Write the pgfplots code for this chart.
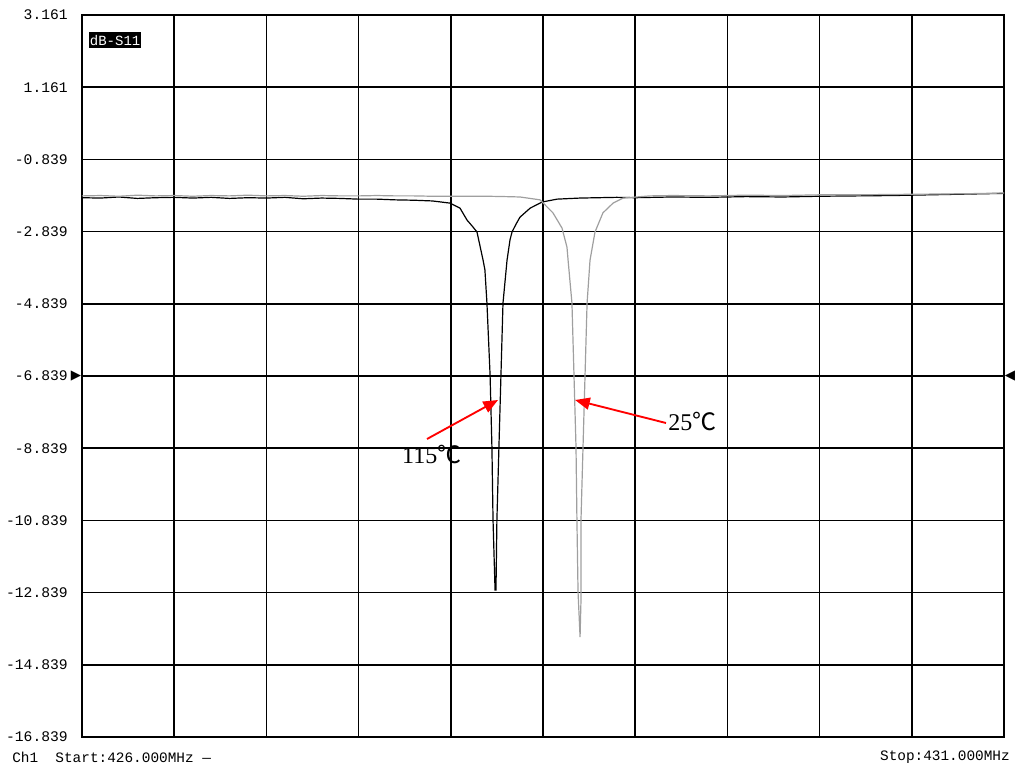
\documentclass[border=0pt]{standalone}
\usepackage{pgfplots}
\pgfplotsset{compat=1.18}
\usetikzlibrary{arrows.meta}
\usepackage{fontspec}
\setmainfont{Liberation Serif}
\newfontfamily\monofont{Liberation Mono}
\newfontfamily\symfont{DejaVu Sans}
\newfontfamily\cjk{Noto Sans CJK SC}
\begin{document}
\begin{tikzpicture}
\useasboundingbox (-61.5pt,-28.5pt) rectangle (706.5pt,552.75pt);
\begin{axis}[
  at={(0pt,0pt)}, anchor=south west,
  scale only axis, width=691.5pt, height=541.5pt,
  xmin=426, xmax=431, ymin=-16.839, ymax=3.161,
  xtick={426,426.5,427,427.5,428,428.5,429,429.5,430,430.5,431},
  xticklabels={},
  ytick={3.161,1.161,-0.839,-2.839,-4.839,-6.839,-8.839,-10.839,-12.839,-14.839,-16.839},
  yticklabels={3.161,1.161,-0.839,-2.839,-4.839,-6.839,-8.839,-10.839,-12.839,-14.839,-16.839},
  yticklabel style={font=\monofont\fontsize{11}{12}\selectfont, anchor=east, inner sep=0pt, xshift=-10.5pt},
  grid=major,
  major grid style={black, line width=1.3pt},
  axis line style={black, line width=1.3pt},
  major tick length=0pt,
  clip=false,
]
% 115 C (black)
\addplot[black, line width=0.9pt] coordinates {
(426.00,-1.90) (426.10,-1.91) (426.20,-1.88) (426.30,-1.92) (426.40,-1.90)
(426.50,-1.89) (426.60,-1.91) (426.70,-1.89) (426.80,-1.92) (426.90,-1.90)
(427.00,-1.91) (427.10,-1.89) (427.20,-1.93) (427.30,-1.91) (427.40,-1.92)
(427.50,-1.94) (427.60,-1.94) (427.70,-1.96) (427.80,-1.97) (427.90,-1.99)
(427.996,-2.05) (428.050,-2.19) (428.088,-2.52) (428.115,-2.68) (428.142,-2.85)
(428.175,-3.63) (428.185,-3.90) (428.196,-4.82) (428.213,-6.81) (428.223,-8.81)
(428.229,-10.83) (428.240,-12.77) (428.245,-12.77) (428.250,-10.83) (428.261,-8.81)
(428.272,-6.81) (428.283,-4.82) (428.305,-3.63) (428.321,-3.07) (428.332,-2.85)
(428.354,-2.63) (428.375,-2.44) (428.430,-2.19) (428.495,-2.02) (428.576,-1.94)
(428.70,-1.91) (428.80,-1.90) (428.90,-1.89) (429.00,-1.90) (429.20,-1.88)
(429.40,-1.89) (429.60,-1.87) (429.80,-1.88) (430.00,-1.86) (430.20,-1.85)
(430.40,-1.84) (430.60,-1.82) (430.80,-1.80) (431.00,-1.78)
};
% 25 C (gray)
\addplot[gray!75, line width=0.9pt] coordinates {
(426.00,-1.85) (426.10,-1.84) (426.20,-1.86) (426.30,-1.83) (426.40,-1.85)
(426.50,-1.84) (426.60,-1.86) (426.70,-1.84) (426.80,-1.85) (426.90,-1.83)
(427.00,-1.85) (427.10,-1.84) (427.20,-1.86) (427.30,-1.84) (427.40,-1.85)
(427.50,-1.85) (427.60,-1.84) (427.70,-1.85) (427.80,-1.85) (427.90,-1.86)
(428.00,-1.86) (428.10,-1.86) (428.20,-1.86) (428.30,-1.87) (428.375,-1.88)
(428.484,-1.96) (428.554,-2.32) (428.603,-2.74) (428.630,-3.27) (428.636,-3.63)
(428.657,-4.82) (428.668,-6.81) (428.679,-8.81) (428.684,-10.83) (428.690,-12.82)
(428.701,-14.07) (428.706,-13.04) (428.706,-10.83) (428.717,-8.81) (428.728,-6.81)
(428.739,-4.82) (428.755,-3.63) (428.782,-2.85) (428.825,-2.32) (428.880,-2.05)
(428.934,-1.91) (429.080,-1.85) (429.20,-1.84) (429.40,-1.85) (429.60,-1.83)
(429.80,-1.84) (430.00,-1.82) (430.20,-1.82) (430.40,-1.81) (430.60,-1.80)
(430.80,-1.79) (431.00,-1.77)
};
% annotations
\draw[red, line width=1.4pt, -{Triangle[length=11pt,width=9pt]}] (axis cs:427.871,-8.584) -- (axis cs:428.256,-7.504);
\draw[red, line width=1.4pt, -{Triangle[length=11pt,width=9pt]}] (axis cs:429.167,-8.141) -- (axis cs:428.674,-7.504);
\node[anchor=west, inner sep=0pt, font=\fontsize{18}{20}\selectfont] at (axis cs:427.735,-9.027) {115{\cjk ℃}};
\node[anchor=west, inner sep=0pt, font=\fontsize{18}{20}\selectfont] at (axis cs:429.178,-8.113) {25{\cjk ℃}};
\node[anchor=north west, fill=black, text=white, inner xsep=0.5pt, inner ysep=2pt, font=\monofont\fontsize{10.5}{12}\selectfont, xshift=5.25pt, yshift=-12.75pt] at (rel axis cs:0,1) {dB-S11};
\node[anchor=east, inner sep=0pt, font=\symfont\fontsize{10}{12}\selectfont, xshift=-0.5pt] at (rel axis cs:0,0.5) {▶};
\node[anchor=west, inner sep=0pt, font=\symfont\fontsize{10}{12}\selectfont, xshift=0.5pt] at (rel axis cs:1,0.5) {◀};
\node[anchor=west, inner sep=0pt, font=\monofont\fontsize{10.8}{12}\selectfont, xshift=-52.5pt, yshift=-15pt] at (rel axis cs:0,0) {Ch1\ \ Start:426.000MHz —};
\node[anchor=east, inner sep=0pt, font=\monofont\fontsize{10.8}{12}\selectfont, xshift=4.5pt, yshift=-15pt] at (rel axis cs:1,0) {Stop:431.000MHz};
\end{axis}
\end{tikzpicture}
\end{document}
